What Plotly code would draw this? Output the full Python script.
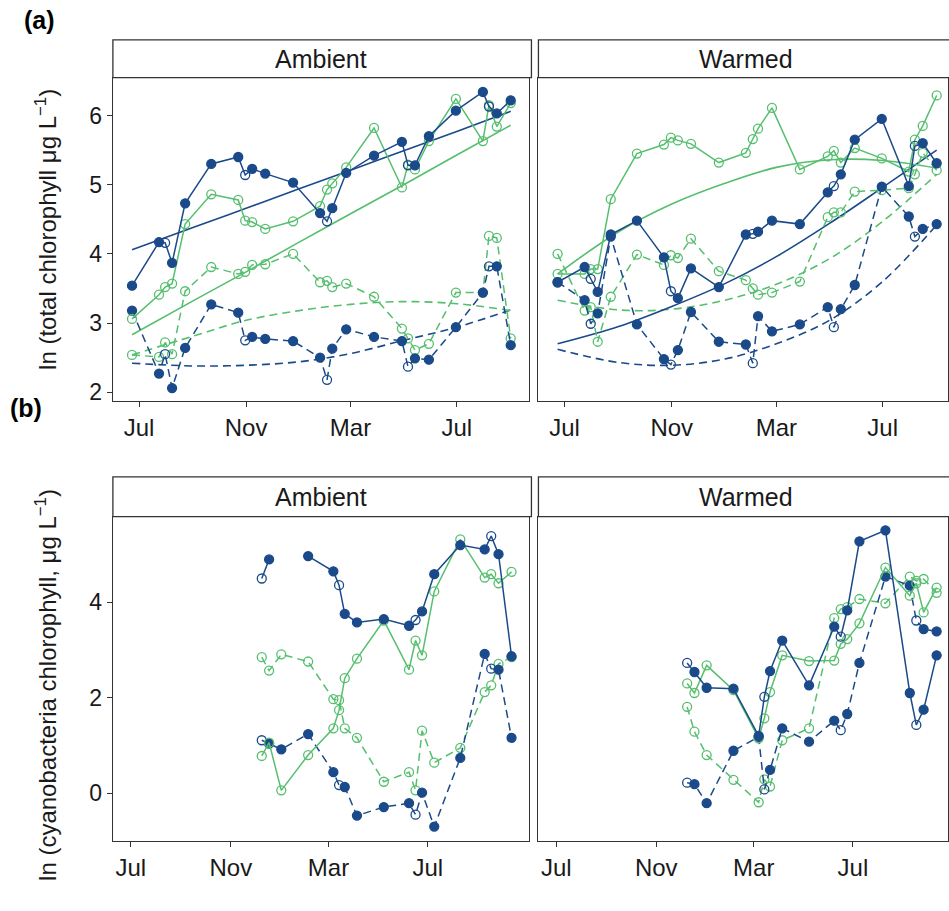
import plotly.graph_objects as go

W, H = 949, 911
BLUE = "#1a4a8a"
GREEN = "#55bf6e"
AXIS = "#333333"
FONT = "Liberation Sans, Arial, sans-serif"

# ---------------- (a) total chlorophyll ----------------
dates_a = ["2016-06-23", "2016-07-24", "2016-07-31", "2016-08-08", "2016-08-23",
           "2016-09-22", "2016-10-23", "2016-10-31", "2016-11-08", "2016-11-23",
           "2016-12-25", "2017-01-25", "2017-02-02", "2017-02-08", "2017-02-24",
           "2017-03-28", "2017-04-29", "2017-05-06", "2017-05-14", "2017-05-30",
           "2017-06-30", "2017-07-31", "2017-08-07", "2017-08-16", "2017-09-01"]
open_a = [2, 7, 12, 17, 22]  # sampling dates plotted with hollow blue markers

amb_a_blue_solid = [3.54, 4.17, 4.16, 3.87, 4.73, 5.30, 5.40, 5.14, 5.23, 5.16, 5.03, 4.59, 4.47,
                    4.66, 5.17, 5.42, 5.62, 5.28, 5.28, 5.70, 6.07, 6.34, 6.13, 6.03, 6.22]
amb_a_green_solid = [3.06, 3.41, 3.52, 3.57, 4.43, 4.86, 4.78, 4.48, 4.46, 4.36, 4.47, 4.69, 4.93,
                     5.02, 5.25, 5.82, 4.96, 5.29, 5.22, 5.63, 6.24, 5.63, 6.15, 5.84, 6.18]
amb_a_blue_dash = [3.18, 2.27, 2.55, 2.06, 2.64, 3.27, 3.15, 2.75, 2.80, 2.77, 2.74, 2.50, 2.18,
                   2.63, 2.91, 2.80, 2.74, 2.37, 2.49, 2.47, 2.94, 3.44, 3.82, 3.82, 2.68]
amb_a_green_dash = [2.54, 2.51, 2.72, 2.55, 3.46, 3.81, 3.71, 3.74, 3.84, 3.85, 4.00, 3.59, 3.61,
                    3.52, 3.57, 3.38, 2.92, 2.78, 2.61, 2.70, 3.44, 3.44, 4.26, 4.23, 2.78]

war_a_blue_solid = [3.59, 3.81, 3.64, 3.45, 4.28, 4.48, 3.95, 3.46, 3.36, 3.79, 3.52, 4.28, 4.29,
                    4.32, 4.48, 4.43, 4.89, 4.98, 5.15, 5.65, 5.95, 4.98, 5.56, 5.60, 5.31]
war_a_green_solid = [3.71, 3.71, 3.78, 3.78, 4.79, 5.45, 5.58, 5.68, 5.64, 5.59, 5.32, 5.46, 5.66,
                     5.81, 6.11, 5.22, 5.41, 5.49, 5.32, 5.53, 5.38, 5.19, 5.65, 5.85, 6.29]
war_a_blue_dash = [3.59, 3.33, 2.99, 3.14, 4.25, 2.98, 2.48, 2.40, 2.61, 3.16, 2.73, 2.69, 2.42,
                   3.10, 2.88, 2.98, 3.23, 2.94, 3.20, 3.55, 4.97, 4.54, 4.25, 4.36, 4.43]
war_a_green_dash = [4.00, 3.18, 3.23, 2.73, 3.38, 3.99, 3.84, 3.98, 3.94, 4.22, 3.75, 3.62, 3.50,
                    3.41, 3.44, 3.60, 4.53, 4.60, 4.60, 4.90, 4.92, 4.95, 5.15, 5.46, 5.21]

# fitted trends, evaluated at these dates
fit_dates_a = ["2016-06-23", "2016-09-01", "2016-11-01", "2017-01-01",
               "2017-03-01", "2017-05-01", "2017-07-01", "2017-09-01"]
amb_fit_blue_solid = [4.06, 4.38, 4.66, 4.94, 5.21, 5.49, 5.77, 6.06]
amb_fit_green_solid = [2.83, 3.32, 3.74, 4.17, 4.58, 5.00, 5.43, 5.86]
amb_fit_blue_dash = [2.42, 2.38, 2.39, 2.44, 2.56, 2.75, 2.94, 3.19]
amb_fit_green_dash = [2.54, 2.81, 3.04, 3.18, 3.27, 3.31, 3.28, 3.18]
war_fit_blue_solid = [2.70, 2.95, 3.24, 3.57, 3.96, 4.44, 4.96, 5.50]
war_fit_green_solid = [3.71, 4.32, 4.72, 5.02, 5.25, 5.36, 5.35, 5.24]
war_fit_blue_dash = [2.62, 2.43, 2.39, 2.48, 2.70, 3.04, 3.60, 4.42]
war_fit_green_dash = [3.33, 3.19, 3.20, 3.33, 3.56, 3.93, 4.47, 5.15]

# ---------------- (b) cyanobacteria chlorophyll ----------------
dates_b = ["2016-12-09", "2016-12-18", "2017-01-02", "2017-02-04", "2017-03-07", "2017-03-14",
           "2017-03-21", "2017-04-05", "2017-05-08", "2017-06-08", "2017-06-16", "2017-06-24",
           "2017-07-09", "2017-08-10", "2017-09-09", "2017-09-17", "2017-09-26", "2017-10-12"]
open_b = [0, 5, 10, 15]

amb_b_blue_solid = [4.50, 4.90, None, 4.97, 4.65, 4.36, 3.76, 3.58, 3.65, 3.51, 3.63, 3.81,
                    4.59, 5.20, 5.11, 5.39, 5.01, 2.87]
amb_b_green_solid = [0.78, 1.06, 0.06, 0.80, 1.36, 1.74, 2.41, 2.82, 3.62, 2.59, 3.20, 2.89,
                     4.23, 5.32, 4.52, 4.59, 4.40, 4.64]
amb_b_blue_dash = [1.11, 1.04, 0.92, 1.24, 0.44, 0.17, 0.13, -0.47, -0.29, -0.21, -0.45, 0.01,
                   -0.70, 0.74, 2.92, 2.61, 2.59, 1.16]
amb_b_green_dash = [2.85, 2.57, 2.91, 2.76, 1.97, 1.95, 1.36, 1.16, 0.24, 0.44, 0.06, 1.31,
                    0.64, 0.95, 2.12, 2.26, 2.71, 2.85]

war_b_blue_solid = [2.73, 2.54, 2.21, 2.19, 1.20, 2.02, 2.56, 3.20, 2.26, 3.49, 3.28, 3.83,
                    5.28, 5.51, 2.10, 1.43, 1.75, 2.89]
war_b_green_solid = [2.30, 2.10, 2.68, 2.16, 1.15, 1.57, 2.12, 2.89, 2.77, 2.78, 3.13, 3.23,
                     3.56, 4.73, 4.14, 4.40, 3.79, 4.31]
war_b_blue_dash = [0.22, 0.19, -0.21, 0.89, 1.18, 0.08, 0.49, 1.36, 1.08, 1.52, 1.32, 1.66,
                   2.73, 4.54, 4.35, 3.62, 3.44, 3.39]
war_b_green_dash = [1.81, 1.29, 0.80, 0.28, -0.19, 0.29, 0.14, 1.11, 1.36, 3.67, 3.86, 3.90,
                    4.07, 3.98, 4.54, 4.45, 4.49, 4.20]

month_ticks = ["2016-07-01", "2016-11-01", "2017-03-01", "2017-07-01"]
month_labels = ["Jul", "Nov", "Mar", "Jul"]

# ---------------- layout geometry (pixels) ----------------
def px_x(x):
    return x / W

def px_y(y):
    return (H - y) / H

panels = {
    # key: (axis suffix, left, right, strip top, plot top, plot bottom, x range, y range)
    "a_amb": ("", 113, 530, 40, 78, 403, ["2016-06-01", "2017-09-22 12:00"], [1.87, 6.547]),
    "a_war": ("2", 539, 949, 40, 78, 403, ["2016-06-01", "2017-09-14"], [1.87, 6.547]),
    "b_amb": ("3", 113, 530, 479, 519, 845, ["2016-06-09", "2017-11-03"], [-1.008, 5.795]),
    "b_war": ("4", 539, 949, 479, 519, 845, ["2016-06-09", "2017-10-26"], [-1.008, 5.795]),
}

fig = go.Figure()

DASH = "8px,5px"


def add_obs(key, dates, vals, color, dash, open_idx):
    ax = panels[key][0]
    if color == BLUE:
        symbols = ["circle-open" if i in open_idx else "circle" for i in range(len(dates))]
    else:
        symbols = ["circle-open"] * len(dates)
    fig.add_trace(go.Scatter(
        x=dates, y=vals, mode="lines+markers", xaxis="x" + ax, yaxis="y" + ax,
        line=dict(color=color, width=1.5, dash=dash),
        marker=dict(symbol=symbols, size=9, opacity=1, color=color,
                    line=dict(color=color, width=1.3)),
        showlegend=False, hoverinfo="x+y"))


def add_fit(key, dates, vals, color, dash):
    ax = panels[key][0]
    fig.add_trace(go.Scatter(
        x=dates, y=vals, mode="lines", xaxis="x" + ax, yaxis="y" + ax,
        line=dict(color=color, width=1.6, dash=dash, shape="spline", smoothing=1.0),
        showlegend=False, hoverinfo="skip"))


# fitted trends
add_fit("a_amb", fit_dates_a, amb_fit_blue_dash, BLUE, DASH)
add_fit("a_amb", fit_dates_a, amb_fit_green_dash, GREEN, DASH)
add_fit("a_amb", fit_dates_a, amb_fit_blue_solid, BLUE, "solid")
add_fit("a_amb", fit_dates_a, amb_fit_green_solid, GREEN, "solid")
add_fit("a_war", fit_dates_a, war_fit_blue_dash, BLUE, DASH)
add_fit("a_war", fit_dates_a, war_fit_green_dash, GREEN, DASH)
add_fit("a_war", fit_dates_a, war_fit_blue_solid, BLUE, "solid")
add_fit("a_war", fit_dates_a, war_fit_green_solid, GREEN, "solid")

# observations
for key, gs, gd, bs, bd, dts, op in [
    ("a_amb", amb_a_green_solid, amb_a_green_dash, amb_a_blue_solid, amb_a_blue_dash, dates_a, open_a),
    ("a_war", war_a_green_solid, war_a_green_dash, war_a_blue_solid, war_a_blue_dash, dates_a, open_a),
    ("b_amb", amb_b_green_solid, amb_b_green_dash, amb_b_blue_solid, amb_b_blue_dash, dates_b, open_b),
    ("b_war", war_b_green_solid, war_b_green_dash, war_b_blue_solid, war_b_blue_dash, dates_b, open_b),
]:
    add_obs(key, dts, gd, GREEN, DASH, op)
    add_obs(key, dts, bd, BLUE, DASH, op)
    add_obs(key, dts, gs, GREEN, "solid", op)
    add_obs(key, dts, bs, BLUE, "solid", op)

shapes = []
annotations = []
layout_axes = {}
for key, (ax, left, right, stop, ptop, pbot, xr, yr) in panels.items():
    xname = "xaxis" + ax
    yname = "yaxis" + ax
    is_left = key.endswith("amb")
    layout_axes[xname] = dict(
        domain=[px_x(left), min(1.0, px_x(right))], anchor="y" + ax, type="date", range=xr,
        tickmode="array", tickvals=month_ticks, ticktext=month_labels,
        ticks="outside", ticklen=5, tickwidth=1.2, tickcolor=AXIS,
        tickfont=dict(size=24, color="#1a1a1a", family=FONT),
        showline=True, linecolor=AXIS, linewidth=1.3, mirror=True,
        showgrid=False, zeroline=False)
    ytv = [2, 3, 4, 5, 6] if key.startswith("a") else [0, 2, 4]
    layout_axes[yname] = dict(
        domain=[px_y(pbot), px_y(ptop)], anchor="x" + ax, range=yr,
        tickmode="array", tickvals=ytv,
        ticks="outside" if is_left else "", ticklen=5, tickwidth=1.2, tickcolor=AXIS,
        showticklabels=is_left,
        tickfont=dict(size=23, color="#1a1a1a", family=FONT),
        showline=True, linecolor=AXIS, linewidth=1.3, mirror=True,
        showgrid=False, zeroline=False)
    # facet strip
    shapes.append(dict(type="rect", xref="paper", yref="paper",
                       x0=px_x(left), x1=px_x(right + 2), y0=px_y(ptop), y1=px_y(stop),
                       line=dict(color=AXIS, width=1.3), fillcolor="white", layer="above"))
    annotations.append(dict(text="Ambient" if is_left else "Warmed", xref="paper", yref="paper",
                            x=px_x((left + right) / 2 + (0 if is_left else 3)), y=px_y((stop + ptop) / 2),
                            xanchor="center", yanchor="middle", showarrow=False,
                            font=dict(size=25, color="#1a1a1a", family=FONT)))

annotations += [
    dict(text="<b>(a)</b>", xref="paper", yref="paper", x=px_x(40), y=px_y(20),
         xanchor="center", yanchor="middle", showarrow=False,
         font=dict(size=25, color="black", family=FONT)),
    dict(text="<b>(b)</b>", xref="paper", yref="paper", x=px_x(26), y=px_y(410),
         xanchor="center", yanchor="middle", showarrow=False,
         font=dict(size=25, color="black", family=FONT)),
    dict(text="ln (total chlorophyll μg L<sup>−1</sup>)", xref="paper", yref="paper",
         x=px_x(46), y=px_y(230), xanchor="center", yanchor="middle", textangle=-90,
         showarrow=False, font=dict(size=24, color="#1a1a1a", family=FONT)),
    dict(text="ln (cyanobacteria chlorophyll, μg L<sup>−1</sup>)", xref="paper", yref="paper",
         x=px_x(46), y=px_y(688), xanchor="center", yanchor="middle", textangle=-90,
         showarrow=False, font=dict(size=24, color="#1a1a1a", family=FONT)),
]

fig.update_layout(
    width=W, height=H, margin=dict(l=0, r=0, t=0, b=0),
    paper_bgcolor="white", plot_bgcolor="white",
    font=dict(family=FONT), showlegend=False,
    shapes=shapes, annotations=annotations, **layout_axes)

fig.write_html("out.html")
